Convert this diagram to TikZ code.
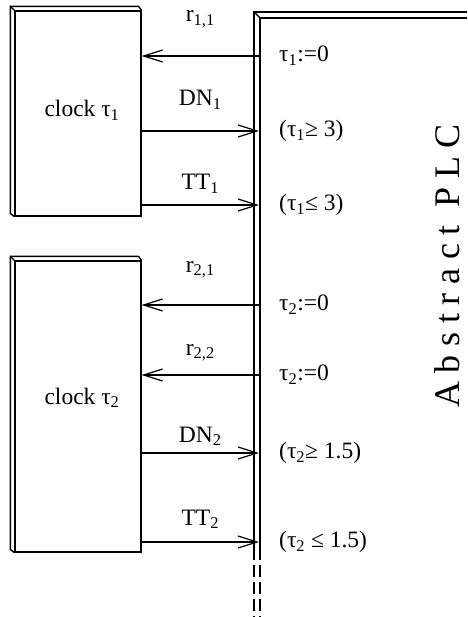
\documentclass[tikz,border=0pt]{standalone}
\usepackage{fontspec}
\setmainfont{Liberation Serif}
\newfontfamily\plcfont[LetterSpace=24]{Liberation Serif}
\usetikzlibrary{arrows.meta,positioning}

\begin{document}
\begin{tikzpicture}[
  x=1pt,y=-1pt,
  clockbox/.style={draw,line width=1.2pt,inner sep=0pt,minimum width=126pt},
  clocktext/.style={anchor=base,font=\fontsize{23.5}{27}\selectfont},
  cond/.style={anchor=west,inner sep=1pt,font=\fontsize{23.5}{27}\selectfont},
  sig/.style={midway,anchor=base,inner sep=0pt,font=\fontsize{23.5}{27}\selectfont},
  arr/.style={-{Straight Barb[length=19pt,width=12pt]},line width=1.2pt},
  rim/.style={line width=1.4pt}
]
\useasboundingbox (0,0) rectangle (467,617);

% timer blocks, raised on the left and top
\node[clockbox,minimum height=205pt] (clk1) at (78,113.5) {};
\node[clockbox,minimum height=291pt] (clk2) at (78,406.5) {};
\foreach \c in {clk1,clk2}{
  \draw[rim] (\c.south west) -- ++(-4,-3) -- ([shift={(-4,-4)}]\c.north west)
    -- ([shift={(-3,-4)}]\c.north east) -- (\c.north east);
  \draw[rim] (\c.north west) -- ++(-4,-4);
}
\node[clocktext] (t1) at (82,117) {clock τ\textsubscript{1}};
\node[clocktext] (t2) at (82,404) {clock τ\textsubscript{2}};

% controller, open to the right and below
\coordinate (plc) at (259,0);
\draw[rim] (254,548) -- (254,12) -- (467,12);
\draw[rim] (260,548) -- (260,18) -- (467,18);
\draw[rim] (254,12) -- (260,18);
\draw[rim,dashed,dash pattern=on 12pt off 5pt] (254,548) -- (254,617) (260,548) -- (260,617);
\node[rotate=90,font=\plcfont\fontsize{36}{40}\selectfont] (title) at (447,266) {Abstract PLC};

% resets and timer tests
\node[cond] (g11) at (278,56) {τ\textsubscript{1}:=0};
\node[cond] (g12) at (278,131) {(τ\textsubscript{1}≥ 3)};
\node[cond] (g13) at (278,205) {(τ\textsubscript{1}≤ 3)};
\node[cond] (g21) at (278,305) {τ\textsubscript{2}:=0};
\node[cond] (g22) at (278,375) {τ\textsubscript{2}:=0};
\node[cond] (g23) at (278,453) {(τ\textsubscript{2}≥ 1.5)};
\node[cond] (g24) at (278,542) {(τ\textsubscript{2} ≤ 1.5)};

% signals between controller and timers
\draw[arr] (plc |- g11) -- node[sig,yshift=34pt]{r\textsubscript{1,1}} (clk1.east |- g11);
\draw[arr] (clk1.east |- g12) -- node[sig,yshift=25pt]{DN\textsubscript{1}} (plc |- g12);
\draw[arr] (clk1.east |- g13) -- node[sig,yshift=15pt]{TT\textsubscript{1}} (plc |- g13);
\draw[arr] (plc |- g21) -- node[sig,yshift=33pt]{r\textsubscript{2,1}} (clk2.east |- g21);
\draw[arr] (plc |- g22) -- node[sig,yshift=20pt]{r\textsubscript{2,2}} (clk2.east |- g22);
\draw[arr] (clk2.east |- g23) -- node[sig,yshift=11pt]{DN\textsubscript{2}} (plc |- g23);
\draw[arr] (clk2.east |- g24) -- node[sig,yshift=17pt]{TT\textsubscript{2}} (plc |- g24);
\end{tikzpicture}
\end{document}
